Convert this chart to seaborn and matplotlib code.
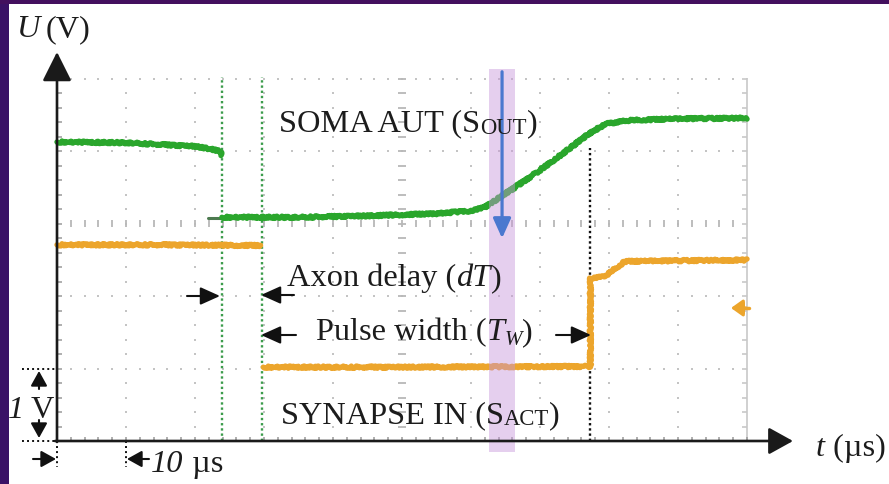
import numpy as np
import pandas as pd
import matplotlib
matplotlib.use("Agg")
import matplotlib.pyplot as plt
from matplotlib.patches import Rectangle, ArrowStyle
from matplotlib.transforms import Affine2D
import seaborn as sns

# ---- oscilloscope traces: time in µs, voltage in V ----
# soma output, before and after the fast falling edge
soma_hi_t = [0, 10, 20, 22.5, 23.6, 23.9]
soma_hi_v = [4.13, 4.12, 4.07, 4.03, 4.00, 3.95]
soma_lo_t = [23.9, 35, 45, 55, 60, 62, 66, 70, 74, 77, 79.5, 83, 90, 100]
soma_lo_v = [3.09, 3.09, 3.11, 3.14, 3.18, 3.23, 3.48, 3.74, 4.02, 4.24, 4.38, 4.43, 4.45, 4.46]
# synapse input, before and after the falling edge
syn_hi_t = [0, 15, 29.5]
syn_hi_v = [2.71, 2.71, 2.70]
syn_lo_t = [29.9, 50, 77.3, 77.3, 79.3, 82.3, 90, 100]
syn_lo_v = [1.02, 1.02, 1.03, 2.25, 2.27, 2.48, 2.49, 2.50]
# short leftover piece of the soma trace just before its drop
lead_t = [21.9, 23.9]
lead_v = [3.08, 3.08]

delay_start = 23.9      # soma trace drops
delay_end = 29.7        # synapse pulse starts
pulse_end = 77.3        # synapse pulse ends
band_t = (62.6, 66.4)   # highlighted instant
level_marker = (98.8, 1.84)

t_per_div = 10
v_per_div = 1
n_tdiv, n_vdiv = 10, 5

GREEN = "#2aa62c"
ORANGE = "#eca52c"
DOT_GREEN = "#3c9c4c"
TEXT = "#1c1c1c"
GRID = "#c4c4c4"

W, H = 889, 484
sns.set_theme(style="white")
plt.rcParams["font.family"] = ["Liberation Serif", "DejaVu Serif"]

fig = plt.figure(figsize=(W / 100, H / 100), dpi=100)
fig.patch.set_facecolor("white")
ax = fig.add_axes([0, 0, 1, 1])
# screen scale: 6.9 px per µs, 72.4 px per V, origin at pixel (57, 441)
ax.set_xlim(-57 / 6.9, (W - 57) / 6.9)
ax.set_ylim((441 - H) / 72.4, 441 / 72.4)
ax.axis("off")

# pixel transform (origin top-left) for callouts and labels
px = Affine2D().scale(1, -1).translate(0, H)

# ---- graticule ----
t_max = n_tdiv * t_per_div
v_max = n_vdiv * v_per_div
minor_t = np.arange(0, t_max + 0.01, t_per_div / 5)
minor_v = np.arange(0, v_max + 0.01, v_per_div / 5)
for v in [1, 2, 4, 5]:
    ax.plot(minor_t, np.full_like(minor_t, v), ls="none", marker="s", ms=1.7, mew=0,
            color=GRID, zorder=1)
for t in [10, 20, 30, 40, 60, 70, 80, 90]:
    ax.plot(np.full_like(minor_v, t), minor_v, ls="none", marker="s", ms=1.7, mew=0,
            color=GRID, zorder=1)
ax.vlines(minor_t, 3 - 0.05, 3 + 0.05, color="#b8b8b8", lw=1.3, zorder=1)
ax.hlines(minor_v, 50 - 0.55, 50 + 0.55, color="#b8b8b8", lw=1.3, zorder=1)
ax.plot([t_max, t_max], [0, v_max], color="#d0d0d0", lw=1.4, zorder=1)
ax.hlines(minor_v, t_max - 0.7, t_max, color="#c8c8c8", lw=1.2, zorder=1)
ax.hlines(minor_v, 0, 0.7, color="#9a9a9a", lw=1.1, zorder=1)
ax.vlines(minor_t, 0, 0.06, color="#9a9a9a", lw=1.1, zorder=1)

# ---- timing markers ----
for t in (delay_start, delay_end):
    ax.plot([t, t], [0, 5.03], color=DOT_GREEN, lw=1.7, ls=(0, (1, 1.2)), zorder=2)
ax.plot([pulse_end, pulse_end], [0, 4.05], color="#111111", lw=1.7, ls=(0, (1, 1.2)), zorder=2)

# ---- traces ----
sns.lineplot(x=lead_t, y=lead_v, ax=ax, color="#4d7a50", lw=2.2, sort=False,
             estimator=None, zorder=3)


def segments(*parts):
    frames = [pd.DataFrame({"t": t, "v": v, "seg": i}) for i, (t, v) in enumerate(parts)]
    return pd.concat(frames, ignore_index=True)


soma = segments((soma_hi_t, soma_hi_v), (soma_lo_t, soma_lo_v))
synapse = segments((syn_hi_t, syn_hi_v), (syn_lo_t, syn_lo_v))
n_before = len(ax.lines)
for df, col in [(soma, GREEN), (synapse, ORANGE)]:
    sns.lineplot(data=df, x="t", y="v", units="seg", ax=ax, color=col, lw=3.9,
                 sort=False, estimator=None, zorder=4)
for ln in ax.lines[n_before:]:
    ln.set_sketch_params(scale=1.1, length=2.5, randomness=3)

ax.plot([level_marker[0]], [level_marker[1]], marker="<", ms=9, mew=0, color=ORANGE,
        zorder=4)
ax.plot([level_marker[0], 100.3], [level_marker[1]] * 2, color=ORANGE, lw=2.5, zorder=4)

# ---- highlighted instant ----
ax.add_patch(Rectangle((band_t[0], -0.15), band_t[1] - band_t[0], 5.29,
                       facecolor="#c795da", alpha=0.45, lw=0, zorder=5))
mid = (band_t[0] + band_t[1]) / 2
ax.annotate("", xy=(mid, 2.80), xytext=(mid, 5.10),
            arrowprops=dict(arrowstyle=ArrowStyle("-|>", head_length=12, head_width=5.4),
                            mutation_scale=1, color="#4a78cf", lw=2.3,
                            shrinkA=0, shrinkB=0), zorder=6)


def arrow(x0, y0, x1, y1, color="#111111", lw=1.5, hl=12, hw=5.4, z=7):
    ax.annotate("", xy=(x1, y1), xytext=(x0, y0), xycoords=px, textcoords=px,
                arrowprops=dict(arrowstyle=ArrowStyle("-|>", head_length=hl, head_width=hw),
                                mutation_scale=1, color=color, lw=lw,
                                shrinkA=0, shrinkB=0), zorder=z)


# ---- coordinate axes ----
arrow(57, 442, 57, 52, color="#1a1a1a", lw=1.9, hl=18, hw=9)
arrow(55, 441, 793, 441, color="#1a1a1a", lw=1.9, hl=15, hw=8.3)

# ---- scale callouts ----
ax.plot([-5.1, 0], [1, 1], color="#111111", lw=1.4, ls=(0, (1, 1.6)), zorder=2)
ax.plot([-5.1, 0], [0, 0], color="#111111", lw=1.4, ls=(0, (1, 1.6)), zorder=2)
ax.plot([0, 0], [0, -0.36], color="#111111", lw=1.4, ls=(0, (1, 1.6)), zorder=2)
ax.plot([10, 10], [0, -0.36], color="#111111", lw=1.4, ls=(0, (1, 1.6)), zorder=2)
arrow(39, 389, 39, 371, hl=9, hw=5)
arrow(39, 420, 39, 438, hl=9, hw=5)
arrow(33, 459, 56, 459, hl=9, hw=5)
arrow(149, 459, 127, 459, hl=9, hw=5)

# delay and pulse width callouts
arrow(187, 296, 220, 296)
arrow(294, 295, 261, 295)
arrow(296, 335, 261, 335)
arrow(556, 335, 591, 335)
arrow(746, 308, 731, 308, color=ORANGE, lw=2.2, hl=7, hw=5)

# ---- labels ----
fig.canvas.draw()
renderer = fig.canvas.get_renderer()
FS = 23.3


def write(x, base, parts):
    for s, scale, italic, dy in parts:
        t = fig.text(x, base + dy, s, transform=px, fontsize=FS * scale,
                     fontstyle="italic" if italic else "normal",
                     family=["Liberation Serif", "DejaVu Serif"],
                     ha="left", va="baseline", color=TEXT, zorder=8)
        x += t.get_window_extent(renderer).width


write(16, 37, [("U", 1, True, 0), ("\u2009", 1, False, 0), ("(V)", 1, False, 0)])
write(279, 131, [("SOMA AUT (S", 1, False, 0), ("OUT", 0.7, False, 3), (")", 1, False, 0)])
write(287, 286, [("Axon delay (", 1, False, 0), ("dT", 1, True, 0), (")", 1, False, 0)])
write(316, 340, [("Pulse width (", 1, False, 0), ("T", 1, True, 0), ("W", 0.65, True, 5),
                 (")", 1, False, 0)])
write(281, 423, [("SYNAPSE IN (S", 1, False, 0), ("ACT", 0.7, False, 2), (")", 1, False, 0)])
write(816, 456, [("t", 1, True, 0), (" (\u00b5s)", 1, False, 0)])
write(8, 418, [("1", 1, True, 0)])
write(31, 418, [("V", 1, False, 0)])
write(151, 472, [("10", 1, True, 0), (" \u00b5s", 1, False, 0)])

# slide frame
fig.add_artist(Rectangle((0, 0), 9, H, transform=px, facecolor="#3a1266", lw=0, zorder=10))
fig.add_artist(Rectangle((0, 0), W, 3.5, transform=px, facecolor="#43105e", lw=0, zorder=10))

fig.savefig("out.png", dpi=100)
